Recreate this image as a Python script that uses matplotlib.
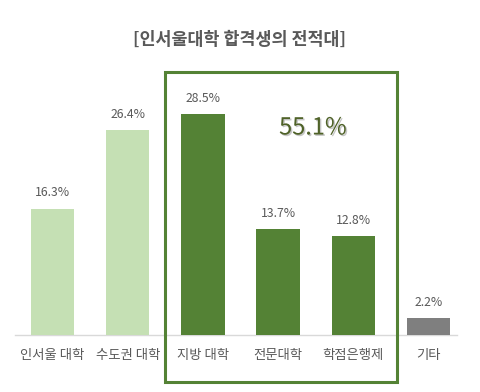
import matplotlib
matplotlib.use("Agg")
import matplotlib.pyplot as plt
from matplotlib.patches import Rectangle
import matplotlib.patheffects as pe

plt.rcParams['font.family'] = ['Noto Sans CJK KR', 'DejaVu Sans']

categories = ['인서울 대학', '수도권 대학', '지방 대학', '전문대학', '학점은행제', '기타']
values = [16.3, 26.4, 28.5, 13.7, 12.8, 2.2]
labels = ['16.3%', '26.4%', '28.5%', '13.7%', '12.8%', '2.2%']
colors = ['#C5E0B4', '#C5E0B4', '#548235', '#548235', '#548235', '#7F7F7F']
title = '[인서울대학 합격생의 전적대]'
highlight = '55.1%'

W, H = 481, 392
fig = plt.figure(figsize=(W / 100, H / 100), dpi=100)
step = 75.2
x0 = 52.5 - step / 2
x1 = x0 + 6 * step
yb = 335
ytop = yb - 30 * 7.75
ax = fig.add_axes([x0 / W, 1 - yb / H, (x1 - x0) / W, (yb - ytop) / H])
ax.set_xlim(-0.5, 5.5)
ax.set_ylim(0, 30)
xs = range(len(categories))
ax.bar(xs, values, width=0.575, color=colors, zorder=2)
for x, v, l in zip(xs, values, labels):
    ax.text(x, v + 1.2, l, ha='center', va='bottom', fontsize=8.8, color='#595959')
ax.set_xticks(list(xs))
ax.set_xticklabels(categories, fontsize=9.6, color='#595959')
ax.tick_params(axis='x', length=0, pad=9)
ax.set_yticks([])
for s in ['top', 'right', 'left', 'bottom']:
    ax.spines[s].set_visible(False)
xend = (457 - x0) / step - 0.5
ax.plot([-0.5, xend], [0, 0], color='#D9D9D9', linewidth=1, clip_on=False, zorder=1)

# highlight box in figure pixel coordinates
bx0, by0, bx1, by1 = 165, 72, 397, 382
fig.patches.append(Rectangle((bx0 / W, 1 - by1 / H), (bx1 - bx0) / W, (by1 - by0) / H,
                             transform=fig.transFigure, fill=False,
                             edgecolor='#548235', linewidth=2.2, zorder=5))

fig.text(313 / W, 1 - 128 / H, highlight, ha='center', va='center', fontsize=17,
         color='#4F6228',
         path_effects=[pe.withSimplePatchShadow(offset=(1, -1), shadow_rgbFace='#A0A0A0', alpha=0.6)])

fig.text(240 / W, 1 - 40 / H, title, ha='center', va='center', fontsize=12.5,
         fontweight='bold', color='#595959')

fig.savefig('out.png', dpi=100)
